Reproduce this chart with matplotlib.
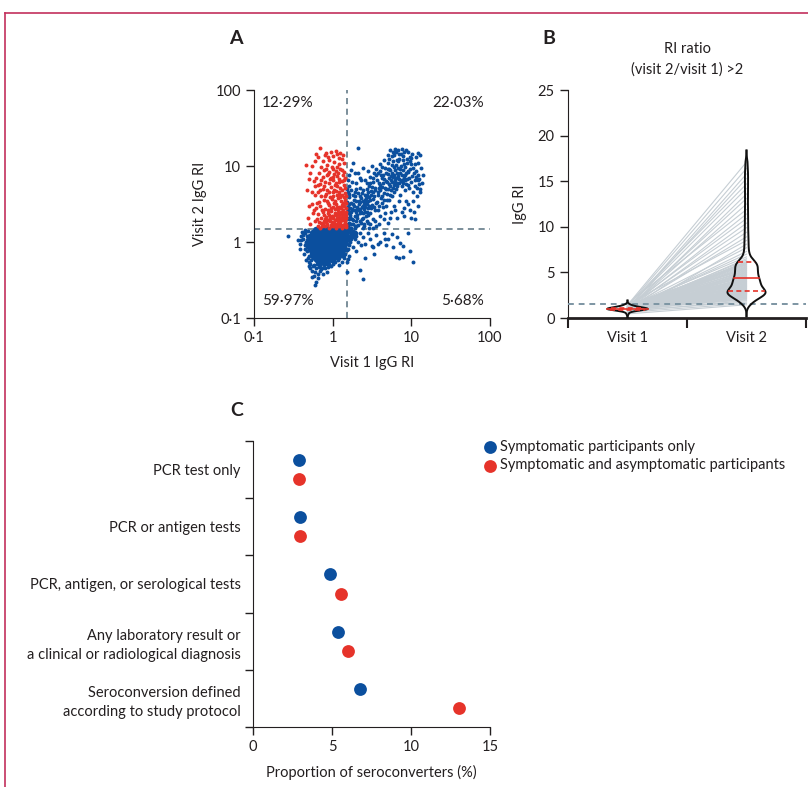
import numpy as np
import matplotlib.pyplot as plt
from matplotlib.lines import Line2D

plt.rcParams['font.family'] = ['Lato', 'DejaVu Sans']
plt.rcParams['font.size'] = 10.5
for k in ['text.color', 'axes.labelcolor', 'xtick.color', 'ytick.color', 'axes.edgecolor']:
    plt.rcParams[k] = '#231f20'

BLUE = '#0b4f9e'
RED = '#e6332a'
DASH = '#57707f'
PINK = '#c2305c'
GREYLINE = '#c6ced4'

# ---- panel A: visit 1 vs visit 2 IgG RI ----
core_pts = [  # dense blob, drawn with larger dots
    (0.62, 1.42), (0.75, 1.42), (0.88, 1.42), (1.0, 1.42), (1.12, 1.42), (1.25, 1.42), (1.38, 1.42), (1.48, 1.42),
    (0.56, 1.3), (0.68, 1.3), (0.8, 1.3), (0.93, 1.3), (1.05, 1.3), (1.18, 1.3), (1.3, 1.3), (1.45, 1.3),
    (0.52, 1.18), (0.63, 1.18), (0.74, 1.18), (0.86, 1.18), (0.98, 1.18), (1.1, 1.18), (1.22, 1.18), (1.36, 1.18), (1.52, 1.18),
    (0.5, 1.07), (0.6, 1.07), (0.7, 1.07), (0.82, 1.07), (0.94, 1.07), (1.04, 1.07), (1.16, 1.07), (1.3, 1.07), (1.45, 1.07),
    (0.49, 0.97), (0.58, 0.97), (0.67, 0.97), (0.78, 0.97), (0.9, 0.97), (1.0, 0.97), (1.12, 0.97), (1.26, 0.97), (1.4, 0.97),
    (0.5, 0.88), (0.6, 0.88), (0.7, 0.88), (0.8, 0.88), (0.92, 0.88), (1.03, 0.88), (1.15, 0.88), (1.3, 0.88),
    (0.53, 0.8), (0.62, 0.8), (0.72, 0.8), (0.84, 0.8), (0.95, 0.8), (1.08, 0.8), (1.2, 0.8), (1.34, 0.8),
    (0.56, 0.72), (0.66, 0.72), (0.77, 0.72), (0.88, 0.72), (1.0, 0.72), (1.12, 0.72), (1.25, 0.72),
    (0.58, 0.65), (0.68, 0.65), (0.78, 0.65), (0.9, 0.65), (1.02, 0.65), (1.14, 0.65),
    (0.64, 0.59), (0.74, 0.59), (0.86, 0.59), (0.98, 0.59),
    (0.7, 0.55), (0.82, 0.55),
]
fringe_pts = [
    (0.45, 1.3), (0.42, 1.1), (0.44, 0.9), (0.47, 0.75), (0.5, 0.65), (0.46, 0.58), (0.52, 0.52), (0.58, 0.5),
    (0.62, 0.45), (0.7, 0.5), (0.75, 0.55), (0.9, 0.52), (1.0, 0.58), (1.1, 0.62), (1.25, 0.68), (1.35, 0.75),
    (1.45, 0.85), (1.5, 0.95), (1.55, 1.05), (1.6, 1.2), (1.7, 1.3), (1.8, 1.4), (0.4, 1.2), (0.38, 0.95),
    (0.55, 0.42), (0.65, 0.38), (0.62, 0.3), (0.6, 0.27), (0.7, 0.42), (0.8, 0.45), (0.5, 0.48), (0.43, 0.7),
    (0.36, 1.05), (0.27, 1.2), (1.3, 0.55), (1.45, 0.7), (1.55, 0.6), (1.2, 0.5), (0.85, 0.4), (0.55, 0.35),
    (0.48, 1.4), (0.41, 1.35), (0.39, 0.82), (0.53, 0.58), (0.66, 0.55), (1.18, 0.58), (1.4, 0.62), (1.62, 0.9),
    (1.65, 1.45), (1.75, 1.15), (1.85, 1.28), (1.58, 1.35), (0.57, 0.62), (0.47, 1.2), (0.73, 0.46), (0.95, 0.48),
    (0.44, 1.45), (0.46, 1.0), (0.45, 0.82), (0.48, 0.62), (0.52, 0.45), (0.6, 0.4), (0.68, 0.47), (0.78, 0.5),
    (0.88, 0.47), (1.0, 0.52), (1.08, 0.55), (1.22, 0.62), (1.3, 0.65), (1.38, 0.68), (1.5, 0.78), (1.58, 0.82),
    (1.65, 1.0), (1.72, 1.1), (1.8, 1.2), (1.9, 1.1), (2.0, 1.3), (1.55, 1.4), (1.52, 0.55), (0.42, 1.25),
    (0.4, 1.05), (0.5, 0.55), (0.56, 0.48), (0.64, 0.52), (0.72, 0.44), (0.66, 0.34), (0.76, 0.38), (0.58, 0.36),
]
lowright_pts = [
    (1.7, 1.25), (1.9, 1.35), (2.0, 1.2), (2.1, 1.0), (2.2, 1.3), (2.3, 0.9), (2.4, 1.15), (2.6, 0.95),
    (2.8, 1.3), (3.0, 1.1), (3.3, 0.85), (3.6, 1.25), (4.0, 1.0), (4.5, 1.3), (5.0, 1.1), (5.7, 1.27),
    (9.1, 1.3), (7.2, 0.98), (7.9, 0.89), (9.6, 0.76), (10.6, 0.55), (6.3, 0.64), (7.0, 0.62), (7.9, 0.64),
    (3.4, 0.7), (2.55, 0.62), (2.2, 0.43), (2.4, 0.33), (1.5, 0.4), (4.7, 0.9), (3.8, 0.94), (3.2, 0.89),
    (4.6, 1.08), (5.9, 0.87), (1.8, 0.85), (1.6, 0.65), (6.5, 1.15), (2.0, 0.75),
]
upright_pts = [
    (1.55, 1.6), (1.6, 1.8), (1.7, 1.55), (1.75, 2.0), (1.8, 1.7), (1.9, 1.6), (1.95, 2.2), (2.0, 1.9),
    (2.1, 1.65), (2.2, 2.4), (2.3, 1.8), (2.4, 2.1), (2.5, 1.6), (2.6, 2.5), (2.7, 1.9), (2.8, 2.3),
    (1.6, 2.4), (1.65, 2.8), (1.7, 3.3), (1.6, 3.9), (1.55, 4.6), (1.6, 5.5), (1.58, 6.5), (1.62, 7.5),
    (1.7, 8.8), (1.75, 6.1), (1.8, 4.2), (1.85, 3.0), (1.9, 2.6), (2.0, 3.5), (2.05, 2.9), (2.1, 4.4),
    (2.15, 3.2), (2.2, 5.2), (2.25, 2.7), (2.3, 3.8), (2.4, 3.0), (2.45, 4.8), (2.5, 2.7), (2.55, 3.6),
    (2.6, 6.5), (2.7, 3.2), (2.75, 4.2), (2.8, 2.8), (2.9, 5.5), (3.0, 3.6), (3.0, 2.4), (3.1, 4.7),
    (3.2, 3.1), (3.3, 6.2), (3.4, 4.0), (3.5, 2.6), (3.5, 5.2), (3.6, 7.5), (3.7, 3.4), (3.8, 4.6),
    (3.9, 6.0), (4.0, 8.5), (4.1, 3.8), (4.2, 5.3), (4.3, 7.0), (4.4, 2.9), (4.5, 4.4), (4.6, 9.5),
    (4.7, 6.3), (4.8, 5.0), (4.9, 3.6), (5.0, 7.8), (5.1, 11.0), (5.2, 5.8), (5.3, 4.2), (5.4, 8.8),
    (5.5, 6.6), (5.6, 13.5), (5.8, 5.2), (5.9, 7.2), (6.0, 9.8), (6.1, 4.6), (6.2, 6.0), (6.4, 15.5),
    (6.5, 8.2), (6.6, 5.5), (6.8, 11.5), (7.0, 6.8), (7.1, 4.2), (7.2, 9.0), (7.4, 14.5), (7.6, 7.5),
    (7.8, 5.9), (8.0, 10.5), (8.2, 6.5), (8.4, 4.8), (8.6, 8.0), (8.8, 12.5), (9.0, 5.6), (9.3, 7.0),
    (9.6, 9.2), (10.0, 6.2), (10.4, 4.6), (10.8, 8.0), (11.2, 5.5), (11.6, 7.2), (12.0, 6.5), (12.5, 5.8),
    (13.0, 14.0), (12.0, 15.0), (11.5, 13.0), (10.0, 12.6), (9.2, 15.5), (8.5, 16.0), (7.5, 16.5), (6.8, 16.0),
    (5.8, 15.2), (5.0, 14.0), (4.5, 12.0), (4.0, 10.5), (3.6, 9.2), (3.2, 10.0), (3.4, 8.0), (3.0, 7.2),
    (2.8, 8.5), (2.4, 9.5), (2.2, 7.0), (2.0, 6.0), (1.9, 8.0), (1.8, 11.0), (2.1, 17.5), (2.5, 1.75),
    (3.0, 1.7), (3.5, 1.9), (4.0, 2.2), (4.5, 2.0), (5.5, 2.5), (6.0, 3.0), (7.0, 3.5), (8.0, 2.8),
    (9.0, 3.2), (10.0, 2.1), (11.0, 2.0), (8.0, 2.2), (6.5, 2.1), (5.0, 1.8), (12.5, 6.8), (13.5, 6.0),
    (12.8, 4.5), (11.8, 4.0), (10.5, 3.5), (2.9, 1.55), (3.6, 1.6), (1.65, 1.52), (1.9, 1.52), (1.52, 2.1),
    (1.56, 2.9), (1.68, 2.3), (1.72, 1.75), (1.82, 1.95), (2.05, 2.3), (2.35, 2.0), (2.65, 2.2), (3.3, 2.0),
    (3.8, 2.6), (4.3, 3.3), (4.8, 3.0), (5.2, 3.6), (5.6, 4.0), (6.3, 5.0), (6.9, 6.0), (7.5, 6.6),
    (8.3, 7.5), (9.0, 8.4), (9.8, 10.5), (5.0, 9.0), (5.7, 10.2), (6.6, 12.0), (4.4, 7.6), (3.9, 5.2),
    (3.3, 4.6), (2.9, 3.9), (2.6, 3.4), (2.35, 2.9), (2.15, 2.6), (1.98, 2.45), (1.78, 2.6), (1.6, 3.2),
    (1.55, 1.75), (1.6, 2.0), (1.65, 2.15), (1.7, 2.5), (1.75, 2.7), (1.8, 3.2), (1.85, 3.6), (1.9, 4.0),
    (1.95, 4.6), (2.0, 5.0), (2.05, 2.05), (2.1, 2.75), (2.15, 3.5), (2.2, 4.0), (2.25, 3.4), (2.3, 2.5),
    (2.35, 4.4), (2.4, 3.5), (2.45, 2.4), (2.5, 3.2), (2.55, 4.2), (2.6, 2.9), (2.65, 3.8), (2.7, 5.0),
    (2.75, 2.5), (2.8, 3.5), (2.85, 4.5), (2.9, 3.0), (2.95, 6.0), (3.05, 4.2), (3.1, 2.8), (3.15, 5.3),
    (3.25, 3.7), (3.35, 2.9), (3.45, 4.9), (3.55, 3.3), (3.65, 6.5), (3.75, 4.1), (3.85, 3.0), (3.95, 5.7),
    (4.05, 4.9), (4.15, 7.5), (4.25, 4.0), (4.35, 5.9), (4.45, 3.6), (4.55, 6.8), (4.65, 5.2), (4.75, 8.2),
    (4.85, 4.3), (4.95, 6.1), (5.05, 5.0), (5.15, 9.0), (5.25, 6.9), (5.35, 5.5), (5.45, 7.4), (5.55, 4.8),
    (5.65, 8.2), (5.75, 6.2), (5.85, 11.5), (5.95, 5.6), (6.05, 7.6), (6.15, 8.8), (6.25, 6.6), (6.35, 10.3),
    (6.45, 7.0), (6.55, 5.9), (6.7, 9.3), (6.85, 7.4), (7.0, 12.5), (7.15, 8.2), (7.3, 6.3), (7.45, 10.0),
    (7.6, 5.4), (7.75, 8.8), (7.9, 13.5), (8.1, 7.0), (8.3, 9.6), (8.5, 5.8), (8.7, 11.0), (8.9, 6.8),
    (9.1, 8.6), (9.4, 5.1), (9.7, 11.8), (10.2, 7.4), (10.6, 9.5), (11.0, 6.6), (11.4, 8.7), (11.9, 5.2),
    (12.3, 7.6), (5.2, 12.5), (6.0, 13.8), (6.9, 14.2), (7.8, 12.0), (4.2, 9.6), (3.8, 8.2), (3.3, 7.0),
    (2.7, 6.0), (2.3, 6.5), (2.1, 8.2), (1.7, 4.8), (1.6, 4.3), (1.52, 3.4), (1.54, 5.0), (1.57, 2.6),
    (2.0, 1.6), (2.2, 1.9), (2.45, 1.55), (2.8, 1.8), (3.3, 1.55), (3.9, 1.75), (4.6, 2.4), (5.3, 2.1),
    (6.2, 2.6), (7.5, 2.5), (8.5, 3.5), (9.5, 2.6), (10.8, 2.5), (12.0, 3.0), (13.0, 5.0), (14.0, 7.5),
    (13.2, 9.5), (12.2, 11.0), (11.0, 10.5), (10.2, 14.2), (9.5, 13.0), (8.0, 15.5), (6.2, 16.5), (5.4, 16.0),
]
red_pts = [
    (0.7, 1.55), (0.8, 1.6), (0.9, 1.55), (1.0, 1.62), (1.1, 1.55), (1.2, 1.6), (1.3, 1.55), (1.4, 1.62),
    (1.48, 1.58), (0.75, 1.7), (0.85, 1.75), (0.95, 1.68), (1.05, 1.78), (1.15, 1.7), (1.25, 1.75), (1.35, 1.68),
    (1.45, 1.8), (0.68, 1.85), (0.78, 1.9), (0.88, 1.95), (0.98, 1.85), (1.08, 1.95), (1.18, 1.88), (1.28, 2.0),
    (1.38, 1.92), (1.47, 2.05), (0.72, 2.1), (0.82, 2.15), (0.92, 2.05), (1.02, 2.2), (1.12, 2.1), (1.22, 2.25),
    (1.32, 2.15), (1.42, 2.3), (0.66, 2.35), (0.76, 2.45), (0.86, 2.4), (0.96, 2.55), (1.06, 2.4), (1.16, 2.6),
    (1.26, 2.45), (1.36, 2.65), (1.46, 2.5), (0.62, 2.8), (0.7, 3.0), (0.8, 2.75), (0.9, 3.1), (1.0, 2.9),
    (1.1, 3.2), (1.2, 2.85), (1.3, 3.05), (1.4, 2.95), (1.48, 3.3), (0.68, 3.4), (0.78, 3.6), (0.88, 3.3),
    (0.98, 3.7), (1.08, 3.45), (1.18, 3.8), (1.28, 3.5), (1.38, 3.9), (0.55, 3.2), (0.58, 2.6), (0.5, 3.0),
    (0.72, 4.0), (0.82, 4.3), (0.92, 3.95), (1.02, 4.5), (1.12, 4.1), (1.22, 4.6), (1.32, 4.2), (1.45, 4.4),
    (0.65, 4.6), (0.75, 5.0), (0.85, 4.8), (0.95, 5.3), (1.05, 4.9), (1.15, 5.5), (1.25, 5.1), (1.4, 5.6),
    (0.6, 5.4), (0.47, 4.9), (0.48, 2.1), (0.7, 5.8), (0.8, 6.2), (0.9, 5.9), (1.0, 6.5), (1.1, 6.0),
    (1.2, 6.8), (1.3, 6.3), (1.45, 6.9), (0.75, 7.2), (0.85, 7.6), (0.95, 7.0), (1.05, 7.8), (1.15, 7.3),
    (1.35, 7.5), (0.68, 8.2), (0.78, 8.8), (0.9, 8.4), (1.0, 9.2), (1.1, 8.6), (1.25, 9.0), (1.4, 8.3),
    (0.72, 9.6), (0.85, 10.2), (0.98, 9.8), (1.2, 10.5), (0.62, 7.0), (0.58, 6.3), (0.46, 10.3), (0.75, 11.5),
    (0.9, 12.0), (1.05, 11.2), (1.3, 12.3), (1.0, 13.5), (0.8, 14.0), (0.65, 13.0), (1.15, 14.5), (0.95, 15.5),
    (0.7, 17.5), (1.1, 15.8), (0.6, 11.8), (1.4, 11.0), (1.35, 13.8), (0.88, 13.0), (1.2, 12.8), (0.55, 10.0),
    (0.74, 1.6), (0.84, 1.66), (0.94, 1.6), (1.04, 1.66), (1.14, 1.6), (1.24, 1.66), (1.34, 1.6), (1.44, 1.7),
    (0.8, 2.0), (0.9, 2.25), (1.0, 2.05), (1.1, 2.3), (1.2, 2.05), (1.3, 2.35), (1.4, 2.1), (0.64, 2.0),
    (0.52, 1.7), (0.6, 1.9), (0.66, 1.6), (0.72, 1.8), (0.78, 2.3), (0.83, 1.85), (0.87, 2.6), (0.93, 1.9),
    (0.97, 2.2), (1.03, 1.75), (1.07, 2.7), (1.13, 1.95), (1.17, 2.4), (1.23, 1.85), (1.27, 2.8), (1.33, 1.95),
    (1.37, 2.4), (1.43, 1.9), (1.47, 2.8), (0.56, 2.4), (0.64, 3.3), (0.74, 2.6), (0.84, 3.5), (0.94, 2.8),
    (1.04, 3.3), (1.14, 2.9), (1.24, 3.9), (1.34, 3.3), (1.44, 3.6), (0.6, 4.2), (0.7, 4.9), (0.8, 4.0),
    (0.9, 4.6), (1.0, 4.0), (1.1, 4.7), (1.2, 4.3), (1.3, 4.9), (1.42, 5.2), (0.65, 5.6), (0.78, 5.5),
    (0.92, 6.8), (1.08, 5.6), (1.22, 6.2), (1.38, 6.5), (0.72, 6.6), (0.88, 7.8), (1.02, 7.2), (1.18, 8.0),
    (1.32, 8.8), (0.82, 9.2), (1.12, 9.8), (0.52, 8.2), (0.5, 6.8), (0.55, 4.5), (1.48, 4.0), (1.48, 2.3),
    (1.46, 1.65), (0.82, 15.0), (1.25, 15.0), (0.62, 14.5),
]
quad_labels = ['12·29%', '22·03%', '59·97%', '5·68%']

# ---- panel B: paired IgG RI, participants with RI ratio > 2 ----
visit2 = [
    1.45, 1.6, 1.75, 1.9, 2.0, 2.08, 2.15, 2.22, 2.28, 2.34, 2.4, 2.45, 2.5, 2.54, 2.58, 2.62, 2.66, 2.7,
    2.73, 2.76, 2.79, 2.82, 2.84, 2.86, 2.88,
    2.92, 2.97, 3.02, 3.07, 3.12, 3.18, 3.24, 3.3, 3.36, 3.42, 3.48, 3.54, 3.6, 3.66, 3.72, 3.78, 3.84,
    3.9, 3.96, 4.02, 4.08, 4.14, 4.2, 4.25, 4.3,
    4.38, 4.45, 4.52, 4.6, 4.68, 4.75, 4.82, 4.9, 4.98, 5.05, 5.12, 5.2, 5.27, 5.34, 5.42, 5.5, 5.57,
    5.64, 5.72, 5.8, 5.87, 5.94, 6.0, 6.05, 6.1,
    6.2, 6.35, 6.5, 6.7, 7.0, 7.3, 7.7, 8.1, 8.5, 8.9, 9.4, 9.9, 10.4, 10.9, 11.4, 11.9, 12.5, 13.1,
    13.6, 14.2, 14.7, 15.3, 15.8, 16.4, 17.1,
]
visit1 = [
    0.45, 0.62, 0.8, 0.72, 0.95, 1.02, 0.88, 1.1, 0.93, 0.78,
    1.05, 0.98, 1.2, 0.85, 1.0, 1.14, 0.9, 1.25, 0.96, 1.08,
    0.82, 1.18, 0.99, 1.3, 0.87, 1.03, 0.94, 1.12, 0.76, 1.22,
    1.0, 0.91, 1.16, 1.35, 0.86, 1.06, 0.97, 1.09, 0.68, 1.2,
    0.92, 1.01, 1.28, 0.89, 1.13, 0.95, 1.04, 0.84, 1.4, 0.99,
    1.07, 0.58, 1.17, 0.93, 1.02, 1.24, 0.88, 1.11, 0.97, 0.81,
    1.15, 1.0, 0.9, 1.33, 1.05, 0.95, 1.19, 0.74, 1.08, 1.45,
    0.98, 1.12, 0.87, 1.03, 1.26, 0.92, 1.06, 0.83, 1.21, 1.0,
    0.96, 1.1, 0.35, 1.5, 1.01, 0.9, 1.14, 0.94, 1.23, 1.04,
    1.55, 0.97, 1.09, 0.86, 1.18, 1.37, 0.99, 1.02, 1.3, 1.42,
]

# ---- panel C: proportion of seroconverters ----
methods = [
    'PCR test only',
    'PCR or antigen tests',
    'PCR, antigen, or serological tests',
    'Any laboratory result or\na clinical or radiological diagnosis',
    'Seroconversion defined\naccording to study protocol',
]
symptomatic = [2.9, 3.0, 4.9, 5.4, 6.8]
all_participants = [2.9, 3.0, 5.55, 6.0, 13.05]

W, H = 808, 787
fig = plt.figure(figsize=(W / 100, H / 100), dpi=100)


def px_axes(left, top, right, bottom):
    return fig.add_axes([left / W, 1 - bottom / H, (right - left) / W, (bottom - top) / H])


# ---------------- A ----------------
axA = px_axes(254, 90, 490, 318)
axA.set_xscale('log')
axA.set_yscale('log')
for pts, col, s in [(core_pts, BLUE, 30), (fringe_pts, BLUE, 8), (lowright_pts, BLUE, 8),
                    (upright_pts, BLUE, 8), (red_pts, RED, 8)]:
    arr = np.array(pts)
    axA.scatter(arr[:, 0], arr[:, 1], s=s, c=col, lw=0, zorder=2)
axA.axvline(1.5, color=DASH, lw=1.1, ls=(0, (4, 3)), zorder=1)
axA.axhline(1.5, color=DASH, lw=1.1, ls=(0, (4, 3)), zorder=1)
axA.set_xlim(0.1, 100)
axA.set_ylim(0.1, 100)
dec = [0.1, 1, 10, 100]
dec_lab = ['0·1', '1', '10', '100']
axA.set_xticks(dec)
axA.set_xticklabels(dec_lab)
axA.set_yticks(dec)
axA.set_yticklabels(dec_lab)
axA.minorticks_off()
axA.tick_params(direction='out', length=6, width=1)
for sp in ['top', 'right']:
    axA.spines[sp].set_visible(False)
axA.set_xlabel('Visit 1 IgG RI', labelpad=8)
axA.set_ylabel('Visit 2 IgG RI', labelpad=6)
axA.text(0.034, 0.943, quad_labels[0], transform=axA.transAxes, ha='left', va='center', fontsize=11)
axA.text(0.975, 0.943, quad_labels[1], transform=axA.transAxes, ha='right', va='center', fontsize=11)
axA.text(0.034, 0.075, quad_labels[2], transform=axA.transAxes, ha='left', va='center', fontsize=11)
axA.text(0.975, 0.075, quad_labels[3], transform=axA.transAxes, ha='right', va='center', fontsize=11)

# ---------------- B ----------------
axB = px_axes(568, 90, 806, 318)
for a, b in zip(visit1, visit2):
    axB.plot([1, 2], [a, b], color=GREYLINE, lw=0.8, zorder=1)
axB.axhline(1.5, color='#7d95a3', lw=1.4, ls=(0, (3, 2.5)), zorder=3)


def violin(ax, vals, pos, bw, half):
    vals = np.asarray(vals)
    grid = np.linspace(max(vals.min() - 3 * bw, 0), vals.max() + 3 * bw, 500)
    dens = np.exp(-0.5 * ((grid[:, None] - vals[None, :]) / bw) ** 2).sum(1)
    w = dens / dens.max() * half
    ax.plot(pos - w, grid, color='#111111', lw=1.4, zorder=4)
    ax.plot(pos + w, grid, color='#111111', lw=1.4, zorder=4)
    q1, med, q3 = np.percentile(vals, [25, 50, 75])
    for q, ls in [(q1, (0, (3, 2))), (med, '-'), (q3, (0, (3, 2)))]:
        hw = np.interp(q, grid, w)
        ax.plot([pos - hw, pos + hw], [q, q], color=RED, lw=1.2, ls=ls, zorder=5)


violin(axB, visit1, 1, 0.12, 0.17)
violin(axB, visit2, 2, 0.42, 0.16)
axB.set_xlim(0.5, 2.5)
axB.set_ylim(0, 25)
axB.set_yticks([0, 5, 10, 15, 20, 25])
axB.set_xticks([0.5, 1.5, 2.5])
axB.set_xticklabels(['', '', ''])
axB.set_xticks([1, 2], minor=True)
axB.set_xticklabels(['Visit 1', 'Visit 2'], minor=True)
axB.tick_params(axis='x', which='major', direction='out', length=7, width=1.5)
axB.tick_params(axis='x', which='minor', length=0, pad=9)
axB.tick_params(axis='y', direction='out', length=6, width=1)
for sp in ['top', 'right']:
    axB.spines[sp].set_visible(False)
axB.spines['bottom'].set_linewidth(2)
axB.set_ylabel('IgG RI', labelpad=8)
axB.set_title('RI ratio\n(visit 2/visit 1) >2', fontsize=10.5, pad=12, linespacing=1.5)

# ---------------- C ----------------
axC = px_axes(253, 441, 490, 727)
ypos = np.arange(len(methods))
axC.scatter(symptomatic, ypos - 0.167, s=85, c=BLUE, lw=0, clip_on=False, zorder=3,
            label='Symptomatic participants only')
axC.scatter(all_participants, ypos + 0.167, s=85, c=RED, lw=0, clip_on=False, zorder=3,
            label='Symptomatic and asymptomatic participants')
axC.set_xlim(0, 15)
axC.set_ylim(4.5, -0.5)
axC.set_yticks(np.arange(-0.5, 5, 1))
axC.set_yticklabels([])
axC.set_yticks(ypos, minor=True)
axC.set_yticklabels(methods, minor=True, ha='right', linespacing=1.45)
axC.tick_params(axis='y', which='major', direction='out', length=6, width=1)
axC.tick_params(axis='y', which='minor', length=0, pad=9)
axC.set_xticks([0, 5, 10, 15])
axC.tick_params(axis='x', direction='out', length=6, width=1)
for sp in ['top', 'right']:
    axC.spines[sp].set_visible(False)
axC.set_xlabel('Proportion of seroconverters (%)', labelpad=8)
axC.legend(loc='upper left', bbox_to_anchor=(483 / W, 1 - 440 / H), bbox_transform=fig.transFigure,
           frameon=False, scatterpoints=1, handlelength=1.0, handletextpad=0.2, labelspacing=0.3,
           borderpad=0, borderaxespad=0)

# panel letters and frame
for lab, x, y in [('A', 236, 38), ('B', 549, 38), ('C', 237, 410)]:
    fig.text(x / W, 1 - y / H, lab, fontsize=14, fontweight='bold', ha='center', va='center')
fig.add_artist(Line2D([5 / W, 1], [1 - 13 / H, 1 - 13 / H], color=PINK, lw=1.2))
fig.add_artist(Line2D([5 / W, 5 / W], [0, 1 - 13 / H], color=PINK, lw=1.2))

fig.savefig('out.png', dpi=100)
